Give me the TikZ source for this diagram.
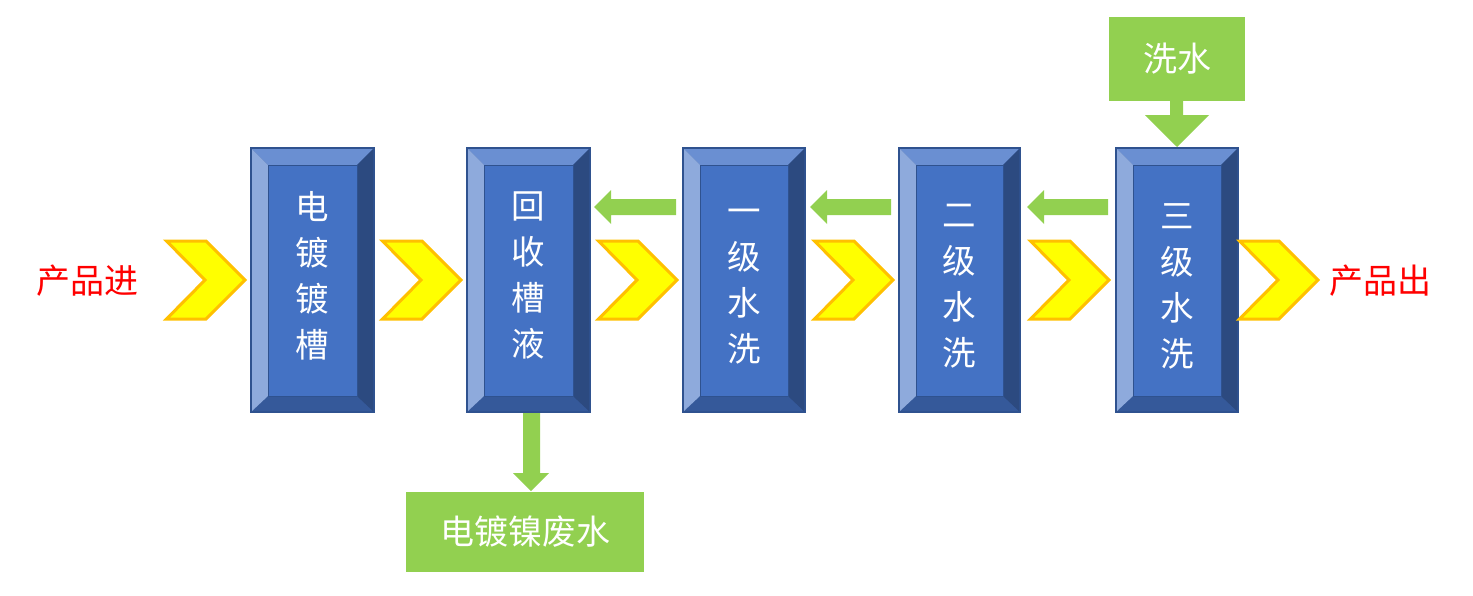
\documentclass[tikz,border=0pt]{standalone}
\usepackage{fontspec}
\newfontfamily\cjk{Noto Sans CJK SC}
\usetikzlibrary{calc}
\definecolor{boxface}{HTML}{4472C4}
\definecolor{boxline}{HTML}{2F528F}
\definecolor{bevtop}{HTML}{6A8FD2}
\definecolor{bevleft}{HTML}{8EAADC}
\definecolor{bevright}{HTML}{2C4A80}
\definecolor{bevbot}{HTML}{35599A}
\definecolor{greenfill}{HTML}{92D050}
\definecolor{chevfill}{HTML}{FFFF00}
\definecolor{chevline}{HTML}{FFC000}
\definecolor{redtext}{HTML}{FF0000}
\tikzset{
  facebox/.style={fill=boxface, draw=boxline, line width=0.6pt, inner sep=0pt,
    text=white, align=center, font=\cjk\fontsize{33.5}{46}\selectfont},
  greenbox/.style={fill=greenfill, draw=none, inner sep=0pt, text=white,
    font=\cjk\fontsize{34}{40}\selectfont},
  sidetext/.style={text=redtext, inner sep=0pt, font=\cjk\fontsize{34}{40}\selectfont},
  chevron/.style={fill=chevfill, draw=chevline, line width=3pt, line join=miter},
  greenarrow/.style={fill=greenfill, draw=none}
}
\newcommand\bevbox[7]{%
  \fill[boxline] (#2,#3) rectangle (#4,#5);
  \fill[bevtop] (#2+2,#3+2) -- (#4-2,#3+2) -- (#4-18,#3+18) -- (#2+18,#3+18) -- cycle;
  \fill[bevbot] (#2+2,#5-2) -- (#4-2,#5-2) -- (#4-18,#5-17) -- (#2+18,#5-17) -- cycle;
  \fill[bevleft] (#2+2,#3+2) -- (#2+18,#3+18) -- (#2+18,#5-17) -- (#2+2,#5-2) -- cycle;
  \fill[bevright] (#4-2,#3+2) -- (#4-18,#3+18) -- (#4-18,#5-17) -- (#4-2,#5-2) -- cycle;
  \node[facebox, minimum width=#4-#2-36, minimum height=#5-#3-35]
    (#1) at ({(#2+#4)/2},{(#3+#5)/2+0.5}) {};
  \node[facebox, fill=none, draw=none] (#1t) at ($(#1.center)+(0,#7)$) {#6};
}
\newcommand\chev[2]{%
  \draw[chevron] (#1+1.5,#2-39) -- (#1+41,#2-39) -- (#1+80,#2) -- (#1+41,#2+39)
    -- (#1+1.5,#2+39) -- (#1+40,#2) -- cycle;
}
\newcommand\larrow[3]{% tip x, end x, y
  \fill[greenarrow] (#1,#3) -- (#1+17,#3-17) -- (#1+17,#3-8) -- (#2,#3-8)
    -- (#2,#3+8) -- (#1+17,#3+8) -- (#1+17,#3+17) -- cycle;
}
\begin{document}
\begin{tikzpicture}[x=1pt,y=-1pt]
\useasboundingbox (0,0) rectangle (1473,595);

\bevbox{b1}{250}{147}{375}{413}{电\\镀\\镀\\槽}{-5}
\bevbox{b2}{466}{147}{591}{413}{回\\收\\槽\\液}{-5}
\bevbox{b3}{682}{147}{806}{413}{一\\级\\水\\洗}{6}
\bevbox{b4}{898}{147}{1021}{413}{二\\级\\水\\洗}{6}
\bevbox{b5}{1115}{147}{1239}{413}{三\\级\\水\\洗}{6}

\node[sidetext] (pin) at (87,281) {产品进};
\node[sidetext] (pout) at (1380,281) {产品出};

\chev{165}{280}
\chev{381}{280}
\chev{597}{280}
\chev{813}{280}
\chev{1029}{280}
\chev{1238}{280}

\larrow{594}{676}{207}
\larrow{810}{891}{207}
\larrow{1027}{1108}{207}

\node[greenbox, minimum width=136, minimum height=84] (wash) at (1177,59) {洗水};
\fill[greenarrow] ($(wash.south)+(-7,0)$) -- ($(wash.south)+(6,0)$)
  -- ($(wash.south)+(6,14)$) -- ($(wash.south)+(32,14)$) -- (b5.north |- 0,147)
  -- ($(wash.south)+(-32,14)$) -- ($(wash.south)+(-7,14)$) -- cycle;

\node[greenbox, minimum width=238, minimum height=80] (waste) at (525,532) {电镀镍废水};
\fill[greenarrow] (523,413) -- (540,413) -- (540,473) -- (549,473)
  -- (531,491) -- (513,473) -- (523,473) -- cycle;
\end{tikzpicture}
\end{document}
